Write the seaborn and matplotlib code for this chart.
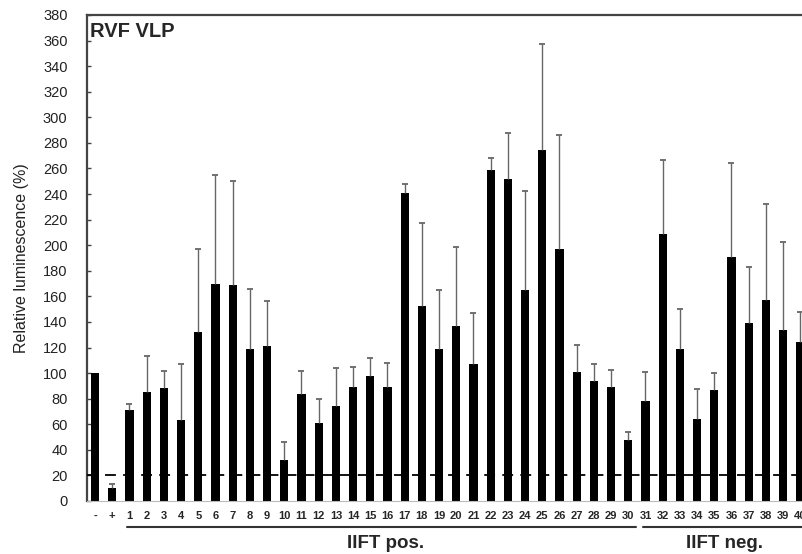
import numpy as np
import matplotlib
matplotlib.use("Agg")
import matplotlib.pyplot as plt
import matplotlib.transforms as mtransforms
import seaborn as sns

# sample labels: controls then sera 1..40
labels = ['-', '+'] + [str(i) for i in range(1, 41)]

# relative luminescence (%) means
lum = [100, 10, 71, 85, 88, 63.5, 132, 170, 168.5, 119, 121,
       32, 83.5, 61, 74, 89, 98, 89, 241, 152.5, 119,
       136.5, 107, 259, 252, 165, 274.5, 197, 101, 94, 89,
       48, 78.5, 208.5, 118.5, 64.5, 87, 191, 139, 157, 134,
       124.5]

# upper error (SD)
err = [0, 3, 5, 28, 14, 44, 65, 85, 82, 47, 35,
       14, 18, 19, 30, 16, 14, 19, 7, 65, 46,
       62, 40, 9.5, 36, 77, 83, 89, 21, 13.5, 13.5,
       6, 22.5, 58.5, 32, 23, 13, 73, 44, 75.5, 68.5,
       23.5]

cutoff = 20
yticks = list(range(0, 381, 20))

sns.set_style("ticks")
plt.rcParams['font.family'] = ['Liberation Sans', 'DejaVu Sans']

fig = plt.figure(figsize=(8.02, 5.54), dpi=100)
ax = fig.add_axes([87/802, 1 - 501/554, 1 - 87/802, (501 - 15)/554])

sns.barplot(x=labels, y=lum, color='black', width=0.48, saturation=1,
            order=labels, ax=ax, errorbar=None, linewidth=0)

# error bars only where an SD was drawn
pos = np.arange(len(labels))
lum_a = np.array(lum)
err_a = np.array(err)
m = err_a > 0
eb = ax.errorbar(pos[m], lum_a[m], yerr=[np.zeros(m.sum()), err_a[m]], fmt='none',
                 ecolor='#666666', elinewidth=1.0, capsize=2.2, capthick=1.3)
# only the upper cap is shown
eb[1][0].set_visible(False)
eb[1][1].set_color('#333333')

# cutoff line
ax.axhline(cutoff, color='black', lw=1.3, ls=(0, (6, 4)), zorder=5)

ax.set_xlim(-0.47, 41.1)
ax.set_ylim(0, 380)
ax.set_yticks(yticks)
ax.tick_params(axis='y', direction='in', length=3, width=1, labelsize=10.5,
               labelcolor='#222222', color='#444444', pad=14)
ax.tick_params(axis='x', length=0, labelsize=8, pad=7)
for t in ax.get_xticklabels():
    t.set_fontweight('bold')

for s in ['left', 'top']:
    ax.spines[s].set_color('#444444')
    ax.spines[s].set_linewidth(1.6)
ax.spines['right'].set_visible(False)
ax.spines['bottom'].set_color('#bbbbbb')
ax.spines['bottom'].set_linewidth(0.8)

ax.set_ylabel('Relative luminescence (%)', fontsize=11.5, color='#222222', labelpad=10)
ax.set_xlabel('')

ax.text(0.004, 0.985, 'RVF VLP', transform=ax.transAxes, fontsize=14.5,
        fontweight='bold', ha='left', va='top')

# group brackets
trans = mtransforms.blended_transform_factory(ax.transData, fig.transFigure)
line_y = 1 - 527/554
text_y = 1 - 543/554
ax.plot([1.86, 31.45], [line_y, line_y], transform=trans, color='#333333',
        lw=1.5, clip_on=False)
ax.plot([31.86, 42.5], [line_y, line_y], transform=trans, color='#333333',
        lw=1.5, clip_on=False)
ax.text(16.9, text_y, 'IIFT pos.', transform=trans, fontsize=13.5,
        fontweight='bold', ha='center', va='center')
ax.text(36.6, text_y, 'IIFT neg.', transform=trans, fontsize=13.5,
        fontweight='bold', ha='center', va='center')

fig.savefig('out.png', dpi=100)
